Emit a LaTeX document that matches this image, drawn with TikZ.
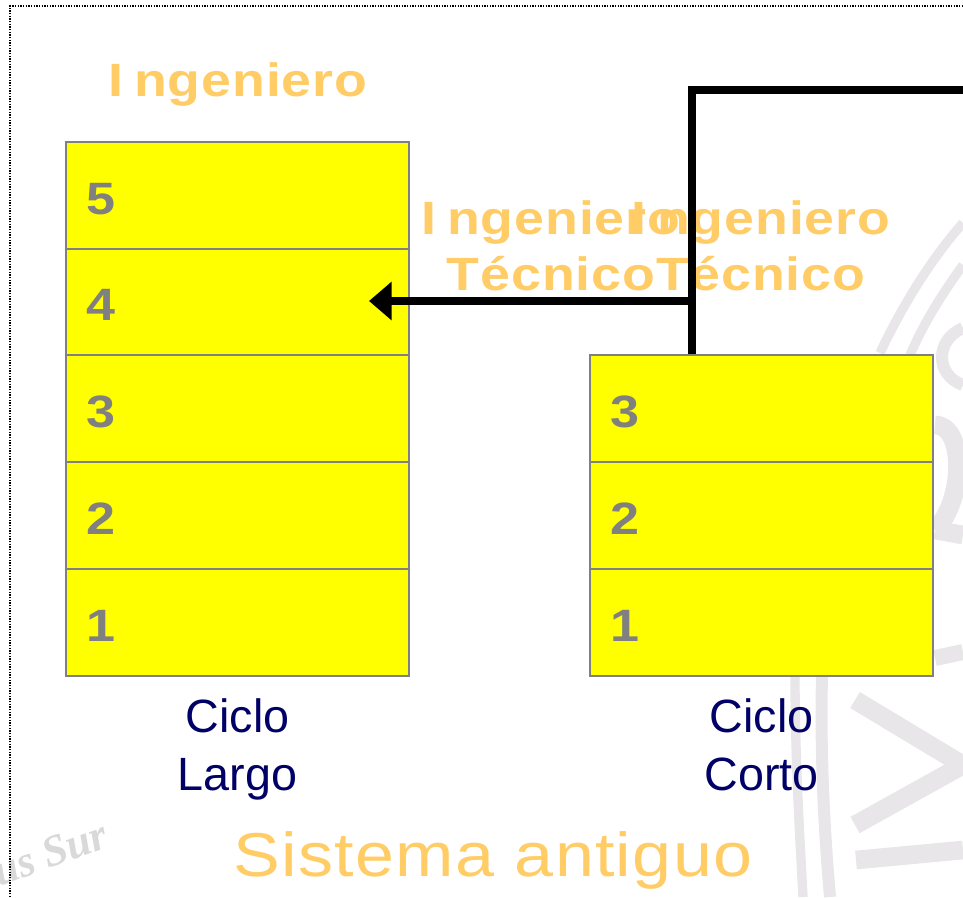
\documentclass[tikz,border=0pt]{standalone}
\usepackage{fontspec}
\setmainfont{Liberation Sans}
\newfontfamily\spaced[FakeStretch=1.15,LetterSpace=2]{Liberation Sans}
\newfontfamily\spacedtitle[FakeStretch=1.13,LetterSpace=2]{Liberation Sans}
\newfontfamily\brush{Liberation Serif}
\usetikzlibrary{arrows.meta,positioning}
\definecolor{cellgray}{RGB}{128,128,128}
\definecolor{cellyellow}{RGB}{255,255,0}
\definecolor{headorange}{RGB}{255,204,102}
\definecolor{capnavy}{RGB}{0,0,102}
\definecolor{crestgray}{RGB}{232,230,232}
\newcommand{\Ing}{I\kern8pt ngeniero}
\tikzset{
  cell/.style={draw=cellgray,line width=1.5pt,fill=cellyellow,minimum width=257pt,minimum height=80pt,
    text width=226.5pt,text height=27.8pt,text depth=0pt,align=left,inner sep=0pt,text=cellgray,font=\fontsize{34}{34}\spaced\bfseries},
  head/.style={text=headorange,align=center,inner sep=0pt,font=\fontsize{35}{42}\spaced\bfseries},
  cycle/.style={text=capnavy,align=center,inner sep=0pt,font=\fontsize{35}{43.5}\selectfont},
  crest/.style={draw=crestgray,line width=7pt},
  bar/.style={draw=black,line width=6pt}
}
\begin{document}
\begin{tikzpicture}[x=0.75pt,y=-0.75pt]
\useasboundingbox (0,0) rectangle (963,897);
% watermark
\draw [crest] (880,353) .. controls (900,310) and (930,260) .. (963,223);
\draw [crest] (910,355) .. controls (925,320) and (945,290) .. (963,265);
\draw [crest,line width=9pt] (963,328) .. controls (935,340) and (935,375) .. (963,385);
\draw [crest,line width=14pt] (935,425) .. controls (965,425) and (965,500) .. (935,530);
\draw [crest,line width=14pt] (935,530) -- (963,535);
\draw [crest,line width=12pt] (935,658) -- (963,652);
\draw [crest] (795,676) .. controls (795,760) and (800,840) .. (803,897);
\draw [crest,line width=9pt] (822,676) .. controls (820,760) and (825,840) .. (830,897);
\draw [crest,line width=14pt] (855,700) -- (963,765) -- (855,825);
\draw [crest,line width=14pt] (856,860) -- (963,850);
\node (sur) at (50,853) [rotate=20,text=black!15,font=\fontsize{33}{33}\brush\bfseries\itshape] {us Sur};
% frame
\coordinate (frameA) at (10,897);
\coordinate (frameB) at (10,6);
\coordinate (frameC) at (963,6);
\draw [line width=1pt,dash pattern=on 1pt off 1pt] (frameA) -- (frameB) -- (frameC);
% boxes
\foreach \n/\y in {5/195.5,4/302,3/408.5,2/515.5,1/622.5}
  \node (long\n) at (237.5,\y) [cell] {\n};
\foreach \n/\y in {3/408.5,2/515.5,1/622.5}
  \node (short\n) at (761.5,\y) [cell] {\n};
% labels
\node (engineer) at (238,85) [head] {\Ing};
\node (techleft) at (551,246) [head] {\Ing\\Técnico};
\node (techright) at (761,246) [head] {\Ing\\Técnico};
\node (longcycle) at (237.5,749) [cycle] {Ciclo\\Largo};
\node (shortcycle) at (761.5,745) [cycle] {Ciclo\\Corto};
\node (title) at (493,860) [text=headorange,inner sep=0pt,font=\fontsize{46.5}{46.5}\spacedtitle] {Sistema antiguo};
% connectors
\coordinate (corner) at (692,90);
\coordinate (free) at (963,90);
\coordinate (branch) at (692,301);
\coordinate (tip) at (369,301);
\draw [bar] (short3.north -| corner) -- (corner) -- (free);
\draw [bar,-{Triangle[length=17pt,width=28pt]}] (branch) -- (tip);
\end{tikzpicture}
\end{document}
